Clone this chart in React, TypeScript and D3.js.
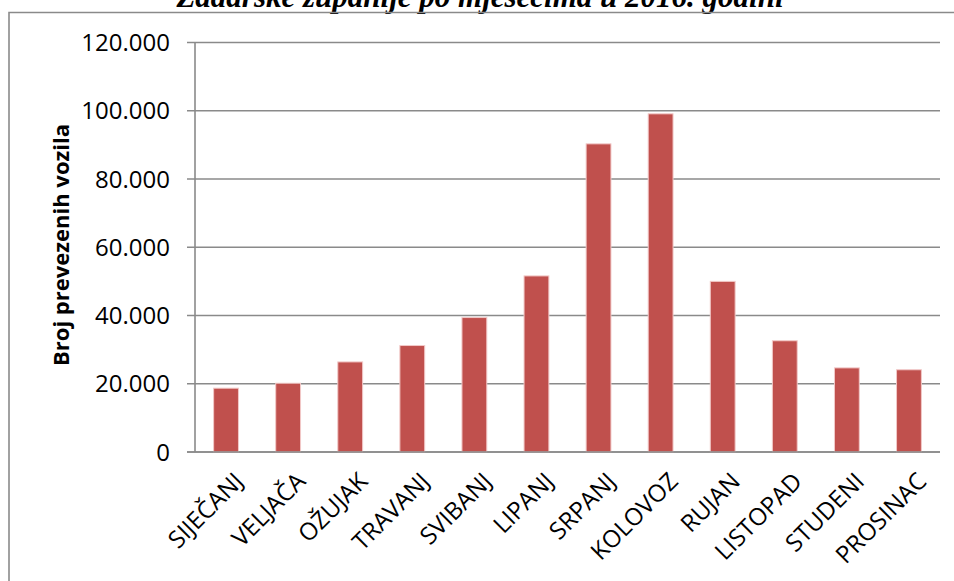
import React from "react";
import * as d3 from "d3";

const months = ["SIJEČANJ", "VELJAČA", "OŽUJAK", "TRAVANJ", "SVIBANJ", "LIPANJ", "SRPANJ", "KOLOVOZ", "RUJAN", "LISTOPAD", "STUDENI", "PROSINAC"];
const vehicles = [18700, 20150, 26400, 31200, 39400, 51600, 90300, 99100, 50000, 32600, 24650, 24100];
const yTicks = [0, 20000, 40000, 60000, 80000, 100000, 120000];
const title = "Zadarske županije po mjesecima u 2016. godini";
const yTitle = "Broj prevezenih vozila";

const W = 954;
const H = 581;
const left = 195;
const right = 940;
const top = 42.5;
const bottom = 452;

const locale = d3.formatLocale({ decimal: ",", thousands: ".", grouping: [3], currency: ["", ""] });
const fmt = locale.format(",");

export default function App() {
  const x = d3.scaleBand<string>().domain(months).range([left, right]).paddingInner(0.6).paddingOuter(0.3);
  const y = d3.scaleLinear().domain([0, 120000]).range([bottom, top]);
  const grid = "#8a8a8a";
  const font = "'Open Sans', sans-serif";
  return (
    <svg width={W} height={H} style={{ position: "absolute", left: 0, top: 0, background: "#fff" }}>
      <rect x={0} y={0} width={W} height={H} fill="#fff" />
      <text x={480} y={6.5} textAnchor="middle" fontFamily="'Liberation Serif', 'Times New Roman', serif" fontWeight="bold" fontStyle="italic" fontSize={31} fill="#000">
        {title}
      </text>
      <path d={`M9,${H + 5}V12.5H${W + 5}`} fill="none" stroke={grid} strokeWidth={1.6} />
      {yTicks.map((t) => (
        <g key={t}>
          <line x1={left - 8} x2={right} y1={y(t)} y2={y(t)} stroke={grid} strokeWidth={1.6} />
          <text x={170} y={y(t)} dy="0.36em" textAnchor="end" fontFamily={font} fontSize={24} fill="#000">
            {fmt(t)}
          </text>
        </g>
      ))}
      <line x1={left} x2={left} y1={top} y2={bottom} stroke={grid} strokeWidth={1.6} />
      {months.map((m, i) => (
        <rect
          key={m}
          x={x(m)!}
          y={y(vehicles[i])}
          width={x.bandwidth()}
          height={bottom - y(vehicles[i])}
          fill="#C0504D"
          stroke="#F2C9C8"
          strokeWidth={1}
        />
      ))}
      <line x1={left - 8} x2={right} y1={bottom} y2={bottom} stroke={grid} strokeWidth={1.6} />
      {months.map((m) => {
        const cx = x(m)! + x.bandwidth() / 2 + 7;
        const cy = bottom + 19;
        return (
          <text key={m} transform={`translate(${cx},${cy}) rotate(-45)`} textAnchor="end" dy="0.7em" fontFamily={font} fontSize={24} fill="#000">
            {m}
          </text>
        );
      })}
      <text transform={`translate(61,245) rotate(-90)`} textAnchor="middle" dy="0.35em" fontFamily={font} fontWeight="bold" fontSize={22} fill="#000">
        {yTitle}
      </text>
    </svg>
  );
}
